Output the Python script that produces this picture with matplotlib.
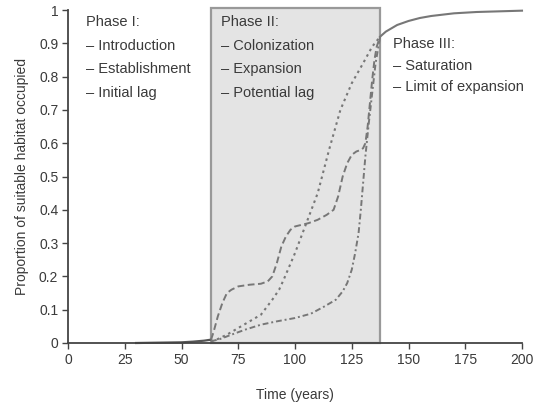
import matplotlib
matplotlib.use("Agg")
import matplotlib.pyplot as plt
from matplotlib.patches import Rectangle

plt.rcParams['font.family'] = ['Liberation Sans', 'DejaVu Sans']

# ---- data ----
x_ticks = [0, 25, 50, 75, 100, 125, 150, 175, 200]
y_ticks = [0, 0.1, 0.2, 0.3, 0.4, 0.5, 0.6, 0.7, 0.8, 0.9, 1]
y_tick_labels = ["0", "0.1", "0.2", "0.3", "0.4", "0.5", "0.6", "0.7", "0.8", "0.9", "1"]

phase2_start = 63
phase2_end = 137.5

# Phase I (solid, near zero)
early_t = [30, 40, 50, 55, 60, 63]
early_p = [0.0, 0.001, 0.002, 0.004, 0.007, 0.01]

# Phase III (solid, saturation)
late_t = [137.5, 140, 145, 150, 155, 160, 170, 180, 190, 200]
late_p = [0.92, 0.935, 0.955, 0.967, 0.976, 0.982, 0.99, 0.994, 0.996, 0.998]

# Stepwise expansion (dashed)
step_t = [63, 64, 66, 68, 70, 72, 75, 80, 85, 88, 90, 92, 94, 96, 98, 100,
          103, 106, 110, 114, 117, 119, 121, 123, 125, 127, 129, 130, 131,
          132, 133, 134, 135, 136, 137.5]
step_p = [0.01, 0.03, 0.08, 0.12, 0.15, 0.16, 0.17, 0.175, 0.178, 0.185, 0.20,
          0.24, 0.29, 0.32, 0.34, 0.35, 0.355, 0.36, 0.37, 0.385, 0.40, 0.44,
          0.50, 0.54, 0.565, 0.575, 0.58, 0.585, 0.60, 0.65, 0.72, 0.79, 0.85,
          0.89, 0.92]

# Smooth expansion (dotted)
smooth_t = [63, 66, 70, 75, 80, 85, 90, 93, 95, 100, 105, 110, 115, 120, 125,
            130, 134, 137.5]
smooth_p = [0.005, 0.012, 0.025, 0.045, 0.065, 0.085, 0.13, 0.16, 0.19, 0.27,
            0.36, 0.45, 0.58, 0.70, 0.78, 0.84, 0.89, 0.92]

# Lagged expansion (dash-dot)
lag_t = [63, 67, 72, 78, 85, 92, 100, 107, 113, 118, 121, 123, 125, 126.5,
         128, 129, 130, 131, 132.5, 134, 135.5, 137.5]
lag_p = [0.005, 0.012, 0.025, 0.04, 0.055, 0.065, 0.075, 0.088, 0.11, 0.13,
         0.155, 0.18, 0.22, 0.27, 0.33, 0.40, 0.48, 0.56, 0.66, 0.75, 0.84, 0.92]

phase1_text = ["Phase I:", "\u2013 Introduction", "\u2013 Establishment", "\u2013 Initial lag"]
phase2_text = ["Phase II:", "\u2013 Colonization", "\u2013 Expansion", "\u2013 Potential lag"]
phase3_text = ["Phase III:", "\u2013 Saturation", "\u2013 Limit of expansion"]

# ---- figure ----
fig = plt.figure(figsize=(5.37, 4.09), dpi=100)
ax = fig.add_axes([68 / 537, 1 - 343 / 409, (522 - 68) / 537, (343 - 10) / 409])

curve_col = "#777777"
text_col = "#3a3a3a"

ax.add_patch(Rectangle((phase2_start, 0), phase2_end - phase2_start, 1.006,
                       facecolor="#e4e4e4", edgecolor="#999999", linewidth=1.6,
                       clip_on=False, zorder=1))

ax.plot(early_t, early_p, color="#555555", lw=1.6, zorder=3, clip_on=False)
ax.plot(late_t, late_p, color=curve_col, lw=1.5, zorder=3, clip_on=False)
ax.plot(step_t, step_p, color=curve_col, lw=1.4, ls=(0, (3.5, 1.8)), zorder=3)
ax.plot(smooth_t, smooth_p, color=curve_col, lw=1.5, ls=(0, (1.2, 1.8)), zorder=3)
ax.plot(lag_t, lag_p, color=curve_col, lw=1.4, ls=(0, (3, 1.5, 1, 1.5)), zorder=3)

ax.set_xlim(0, 200)
ax.set_ylim(0, 1)
ax.set_xticks(x_ticks)
ax.set_yticks(y_ticks)
ax.set_yticklabels(y_tick_labels)
ax.tick_params(axis="both", direction="out", length=4, width=1, color="#444444",
               labelsize=10, labelcolor=text_col, pad=3)
for s in ["top", "right"]:
    ax.spines[s].set_visible(False)
for s in ["left", "bottom"]:
    ax.spines[s].set_color("#444444")
    ax.spines[s].set_linewidth(1.3)
    ax.spines[s].set_zorder(4)

ax.set_xlabel("Time (years)", fontsize=10, color=text_col, labelpad=15)
ax.set_ylabel("Proportion of suitable habitat occupied", fontsize=10,
              color=text_col, labelpad=7)

def block(lines, x, y_top, dy):
    for i, t in enumerate(lines):
        ax.text(x, y_top - i * dy, t, fontsize=10.5, color=text_col,
                ha="left", va="center", zorder=5)

block(phase1_text, 7.8, 0.964, 0.071)
block(phase2_text, 67.3, 0.964, 0.071)
block(phase3_text, 143.3, 0.898, 0.065)

fig.savefig("out.png", dpi=100, facecolor="white")
